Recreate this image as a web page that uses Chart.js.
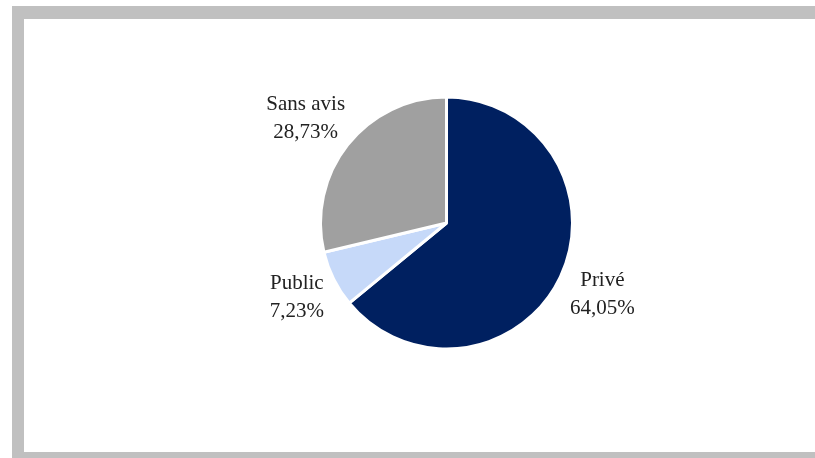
<!DOCTYPE html>
<html>
<head>
<meta charset="utf-8">
<script src="https://cdn.jsdelivr.net/npm/chart.js@4.4.1/dist/chart.umd.min.js"></script>
<style>
    html, body { margin: 0; padding: 0; background: #ffffff; overflow: hidden; }
    #frame {
        position: absolute; left: 12px; top: 6px;
        width: 900px; height: 433px;
        border-top: 13px solid #c0c0c0;
        border-left: 12px solid #c0c0c0;
        border-bottom: 6px solid #c0c0c0;
    }
    #pie-chart { position: absolute; left: 0; top: 0; }
</style>
</head>
<body>
<div id="frame"></div>
<canvas id="pie-chart" width="815" height="458"></canvas>
<script>
// Répartition des avis
var categories = ["Privé", "Public", "Sans avis"];
var values = [64.05, 7.23, 28.73];
var colors = ["#002060", "#c6d9f9", "#a0a0a0"];

function formatPct(v) {
    return v.toFixed(2).replace(".", ",") + "%";
}

// Labels drawn outside each slice, two lines: name + percentage
var outsideLabels = {
    id: "outsideLabels",
    afterDatasetsDraw: function (chart) {
        var ctx = chart.ctx;
        var meta = chart.getDatasetMeta(0);
        var gap = 14;
        var lineH = 28;
        ctx.save();
        ctx.font = "21px 'Liberation Serif', 'DejaVu Serif', serif";
        ctx.fillStyle = "#222222";
        ctx.textAlign = "center";
        ctx.textBaseline = "middle";
        meta.data.forEach(function (arc, i) {
            var p = arc.getProps(["x", "y", "startAngle", "endAngle", "outerRadius"], true);
            var mid = (p.startAngle + p.endAngle) / 2;
            var lines = [categories[i], formatPct(values[i])];
            var w = Math.max(ctx.measureText(lines[0]).width, ctx.measureText(lines[1]).width);
            var h = lineH * 2;
            var cosA = Math.cos(mid), sinA = Math.sin(mid);
            var cx = p.x + (p.outerRadius + gap) * cosA + cosA * w / 2;
            var cy = p.y + (p.outerRadius + gap) * sinA + sinA * h / 2;
            ctx.fillText(lines[0], cx, cy - lineH / 2);
            ctx.fillText(lines[1], cx, cy + lineH / 2);
        });
        ctx.restore();
    }
};

var chartData = {
    labels: categories,
    datasets: [{
        data: values,
        backgroundColor: colors,
        borderColor: "#ffffff",
        borderWidth: 3
    }]
};

var chartOptions = {
    responsive: false,
    animation: false,
    layout: { padding: { left: 319, right: 241, top: 95, bottom: 107 } },
    plugins: {
        legend: { display: false },
        tooltip: { enabled: false }
    }
};

var pieChart = new Chart(document.getElementById("pie-chart"), {
    type: "pie",
    data: chartData,
    options: chartOptions,
    plugins: [outsideLabels]
});
</script>
</body>
</html>
